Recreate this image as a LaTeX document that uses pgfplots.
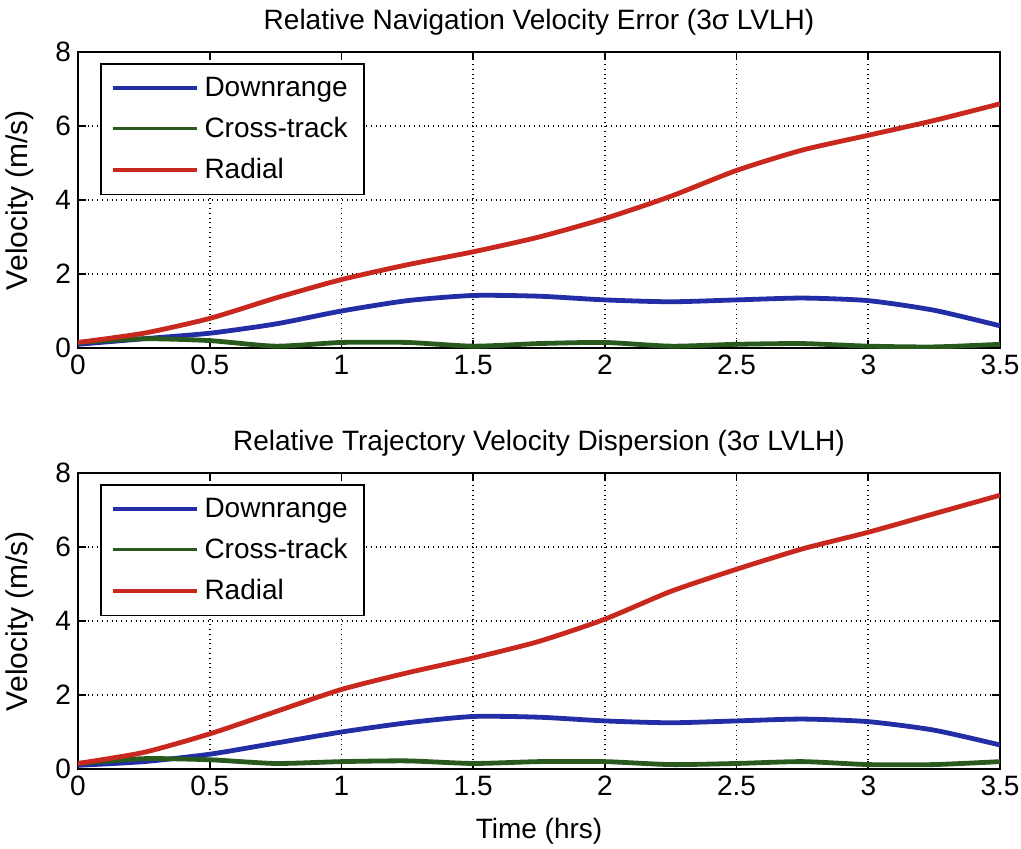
\documentclass[border=0pt]{standalone}
\usepackage{fontspec}
\setmainfont{Liberation Sans}
\usepackage{pgfplots}
\pgfplotsset{compat=1.18}
\definecolor{mblue}{RGB}{35,45,165}
\definecolor{mgreen}{RGB}{40,90,30}
\definecolor{mred}{RGB}{200,40,30}
\pgfplotsset{
  mstyle/.style={
    scale only axis, width=461pt, height=148pt,
    xmin=0, xmax=3.5, ymin=0, ymax=8,
    xtick={0,0.5,...,3.5}, ytick={0,2,4,6,8},
    xticklabels={0,0.5,1,1.5,2,2.5,3,3.5},
    grid=major, major grid style={black, dotted, line width=0.8pt},
    tick align=inside, tick pos=both, major tick length=4pt,
    axis line style={line width=0.9pt},
    tick style={black, line width=0.8pt},
    /pgf/number format/assume math mode=true,
    tick label style={font=\fontsize{14}{16}\selectfont},
    label style={font=\fontsize{14}{16}\selectfont},
    title style={font=\fontsize{14}{16}\selectfont, yshift=-1pt},
    ylabel={Velocity (m/s)},
    ylabel style={font=\fontsize{15}{17}\selectfont, yshift=4pt},
    legend style={at={(0.024,0.963)}, anchor=north west, draw=black, line width=0.8pt,
      font=\fontsize{14}{16}\selectfont, row sep=5pt, inner xsep=5pt, inner ysep=4.5pt,
      nodes={inner xsep=3pt}},
    legend cell align=left,
    legend image code/.code={\draw[#1, line width=1.8pt] (0,0) -- (42pt,0);},
    every axis plot/.append style={line width=2.4pt, smooth, tension=0.4},
  }
}
\begin{document}
\begin{tikzpicture}
\begin{axis}[mstyle, at={(0,0)}, anchor=north west,
  title={Relative Navigation Velocity Error (3σ LVLH)}]
\addplot[mblue] coordinates {(0,0.1) (0.25,0.25) (0.5,0.4) (0.75,0.65) (1,1.0) (1.25,1.28) (1.5,1.42) (1.75,1.4) (2,1.3) (2.25,1.25) (2.5,1.3) (2.75,1.35) (3,1.28) (3.25,1.02) (3.5,0.6)};
\addlegendentry{Downrange}
\addplot[mgreen] coordinates {(0,0.15) (0.25,0.25) (0.5,0.2) (0.75,0.05) (1,0.15) (1.25,0.15) (1.5,0.05) (1.75,0.12) (2,0.15) (2.25,0.05) (2.5,0.1) (2.75,0.12) (3,0.05) (3.25,0.03) (3.5,0.1)};
\addlegendentry{Cross-track}
\addplot[mred] coordinates {(0,0.15) (0.25,0.4) (0.5,0.8) (0.75,1.35) (1,1.85) (1.25,2.25) (1.5,2.6) (1.75,3.0) (2,3.5) (2.25,4.1) (2.5,4.8) (2.75,5.35) (3,5.75) (3.25,6.15) (3.5,6.6)};
\addlegendentry{Radial}
\end{axis}
\begin{axis}[mstyle, at={(0,-210.5pt)}, anchor=north west,
  title={Relative Trajectory Velocity Dispersion (3σ LVLH)},
  xlabel={Time (hrs)}, xlabel style={yshift=-4.5pt}]
\addplot[mblue] coordinates {(0,0.1) (0.25,0.2) (0.5,0.4) (0.75,0.7) (1,1.0) (1.25,1.25) (1.5,1.42) (1.75,1.4) (2,1.3) (2.25,1.25) (2.5,1.3) (2.75,1.35) (3,1.28) (3.25,1.05) (3.5,0.65)};
\addlegendentry{Downrange}
\addplot[mgreen] coordinates {(0,0.15) (0.25,0.28) (0.5,0.25) (0.75,0.15) (1,0.2) (1.25,0.22) (1.5,0.15) (1.75,0.2) (2,0.2) (2.25,0.12) (2.5,0.15) (2.75,0.2) (3,0.12) (3.25,0.12) (3.5,0.2)};
\addlegendentry{Cross-track}
\addplot[mred] coordinates {(0,0.15) (0.25,0.45) (0.5,0.95) (0.75,1.55) (1,2.15) (1.25,2.6) (1.5,3.0) (1.75,3.45) (2,4.05) (2.25,4.8) (2.5,5.4) (2.75,5.95) (3,6.4) (3.25,6.9) (3.5,7.4)};
\addlegendentry{Radial}
\end{axis}
\pgfresetboundingbox
\path (-39pt,26pt) rectangle (471.5pt,-398pt);
\end{tikzpicture}
\end{document}
